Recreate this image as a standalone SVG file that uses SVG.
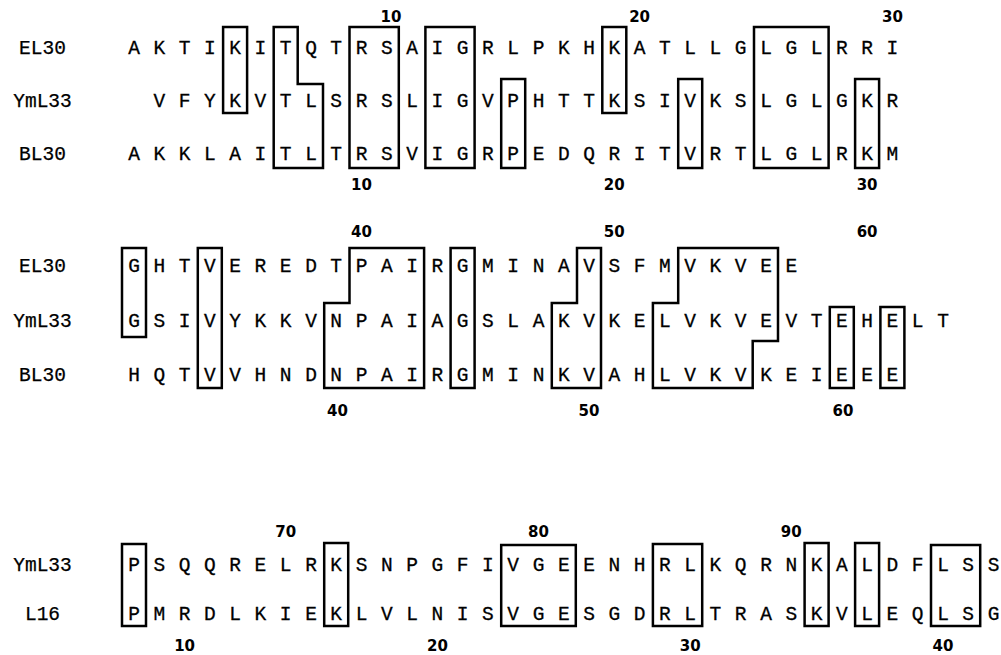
<svg xmlns="http://www.w3.org/2000/svg" width="1001" height="655" viewBox="0 0 1001 655">
<style>
.seq{font-family:"Liberation Mono","Courier New",monospace;font-size:19.5px;fill:#000;stroke:#000;stroke-width:0.3;text-anchor:middle}
.lbl{font-family:"Liberation Mono","Courier New",monospace;font-size:19.5px;fill:#000;stroke:#000;stroke-width:0.25;text-anchor:middle}
.num{font-family:"DejaVu Sans","Liberation Sans",sans-serif;font-weight:bold;font-size:15px;fill:#000;text-anchor:middle}
.box{fill:none;stroke:#000;stroke-width:2.5;stroke-linejoin:miter}
</style>
<rect width="1001" height="655" fill="#fff"/>

<g id="block1">
<g id="block1-labels">
<text class="lbl" x="42.5" y="54">EL30</text>
<text class="lbl" x="42.5" y="107">YmL33</text>
<text class="lbl" x="42.5" y="160">BL30</text>
</g>
<g id="block1-seqs">
<text class="seq" y="54" x="134 159.3 184.6 209.8 235.1 260.4 285.7 311 336.2 361.5 386.8 412.1 437.4 462.6 487.9 513.2 538.5 563.8 589 614.3 639.6 664.9 690.2 715.4 740.7 766 791.3 816.6 841.8 867.1 892.4">AKTIKITQTRSAIGRLPKHKATLLGLGLRRI</text>
<text class="seq" y="107" x="159.3 184.6 209.8 235.1 260.4 285.7 311 336.2 361.5 386.8 412.1 437.4 462.6 487.9 513.2 538.5 563.8 589 614.3 639.6 664.9 690.2 715.4 740.7 766 791.3 816.6 841.8 867.1 892.4">VFYKVTLSRSLIGVPHTTKSIVKSLGLGKR</text>
<text class="seq" y="160" x="134 159.3 184.6 209.8 235.1 260.4 285.7 311 336.2 361.5 386.8 412.1 437.4 462.6 487.9 513.2 538.5 563.8 589 614.3 639.6 664.9 690.2 715.4 740.7 766 791.3 816.6 841.8 867.1 892.4">AKKLAITLTRSVIGRPEDQRITVRTLGLRKM</text>
</g>
<g id="block1-numbers">
<text class="num" x="391" y="22">10</text>
<text class="num" x="639.6" y="22">20</text>
<text class="num" x="892.4" y="22">30</text>
<text class="num" x="361.5" y="190">10</text>
<text class="num" x="614.3" y="190">20</text>
<text class="num" x="867.1" y="190">30</text>
</g>
<g id="block1-boxes">
<rect class="box" x="223.1" y="27" width="24" height="86"/>
<polygon class="box" points="273.7,27 297.7,27 297.7,84 323,84 323,168 273.7,168"/>
<rect class="box" x="349.5" y="27" width="49.3" height="141"/>
<rect class="box" x="425.4" y="27" width="49.2" height="141"/>
<rect class="box" x="501.2" y="79" width="24" height="89"/>
<rect class="box" x="602.3" y="27" width="24" height="86"/>
<rect class="box" x="678.2" y="79" width="24" height="89"/>
<rect class="box" x="754" y="27" width="74.6" height="141"/>
<rect class="box" x="855.1" y="79" width="24" height="89"/>
</g>
</g>

<g id="block2">
<g id="block2-labels">
<text class="lbl" x="42.5" y="272">EL30</text>
<text class="lbl" x="42.5" y="327">YmL33</text>
<text class="lbl" x="42.5" y="381">BL30</text>
</g>
<g id="block2-seqs">
<text class="seq" y="272" x="134 159.3 184.6 209.8 235.1 260.4 285.7 311 336.2 361.5 386.8 412.1 437.4 462.6 487.9 513.2 538.5 563.8 589 614.3 639.6 664.9 690.2 715.4 740.7 766 791.3">GHTVEREDTPAIRGMINAVSFMVKVEE</text>
<text class="seq" y="327" x="134 159.3 184.6 209.8 235.1 260.4 285.7 311 336.2 361.5 386.8 412.1 437.4 462.6 487.9 513.2 538.5 563.8 589 614.3 639.6 664.9 690.2 715.4 740.7 766 791.3 816.6 841.8 867.1 892.4 917.7 943">GSIVYKKVNPAIAGSLAKVKELVKVEVTEHELT</text>
<text class="seq" y="381" x="134 159.3 184.6 209.8 235.1 260.4 285.7 311 336.2 361.5 386.8 412.1 437.4 462.6 487.9 513.2 538.5 563.8 589 614.3 639.6 664.9 690.2 715.4 740.7 766 791.3 816.6 841.8 867.1 892.4">HQTVVHNDNPAIRGMINKVAHLVKVKEIEEE</text>
</g>
<g id="block2-numbers">
<text class="num" x="361.5" y="237">40</text>
<text class="num" x="614.3" y="237">50</text>
<text class="num" x="867.1" y="237">60</text>
<text class="num" x="337.5" y="416">40</text>
<text class="num" x="589" y="416">50</text>
<text class="num" x="843" y="416">60</text>
</g>
<g id="block2-boxes">
<rect class="box" x="122" y="248" width="24" height="89"/>
<rect class="box" x="197.8" y="248" width="24" height="140"/>
<polygon class="box" points="349.5,248 424.1,248 424.1,388 324.2,388 324.2,303 349.5,303"/>
<rect class="box" x="450.6" y="248" width="24" height="140"/>
<polygon class="box" points="577,248 601,248 601,388 551.8,388 551.8,303 577,303"/>
<polygon class="box" points="678.2,248 778,248 778,341 752.7,341 752.7,388 652.9,388 652.9,303 678.2,303"/>
<rect class="box" x="829.8" y="307" width="24" height="81"/>
<rect class="box" x="880.4" y="307" width="24" height="81"/>
</g>
</g>

<g id="block3">
<g id="block3-labels">
<text class="lbl" x="42.5" y="571">YmL33</text>
<text class="lbl" x="42.5" y="620">L16</text>
</g>
<g id="block3-seqs">
<text class="seq" y="571" x="134 159.3 184.6 209.8 235.1 260.4 285.7 311 336.2 361.5 386.8 412.1 437.4 462.6 487.9 513.2 538.5 563.8 589 614.3 639.6 664.9 690.2 715.4 740.7 766 791.3 816.6 841.8 867.1 892.4 917.7 943 968.2 993.5">PSQQRELRKSNPGFIVGEENHRLKQRNKALDFLSS</text>
<text class="seq" y="620" x="134 159.3 184.6 209.8 235.1 260.4 285.7 311 336.2 361.5 386.8 412.1 437.4 462.6 487.9 513.2 538.5 563.8 589 614.3 639.6 664.9 690.2 715.4 740.7 766 791.3 816.6 841.8 867.1 892.4 917.7 943 968.2 993.5">PMRDLKIEKLVLNISVGESGDRLTRASKVLEQLSG</text>
</g>
<g id="block3-numbers">
<text class="num" x="285.7" y="537">70</text>
<text class="num" x="538.5" y="537">80</text>
<text class="num" x="791.3" y="537">90</text>
<text class="num" x="184.6" y="651">10</text>
<text class="num" x="437.4" y="651">20</text>
<text class="num" x="690.2" y="651">30</text>
<text class="num" x="943" y="651">40</text>
</g>
<g id="block3-boxes">
<rect class="box" x="122" y="544" width="24" height="82"/>
<rect class="box" x="324.2" y="543" width="24" height="83"/>
<rect class="box" x="501.2" y="545" width="74.6" height="81"/>
<rect class="box" x="652.9" y="544" width="49.3" height="82"/>
<rect class="box" x="804.6" y="543" width="24" height="83"/>
<rect class="box" x="855.1" y="543" width="24" height="83"/>
<rect class="box" x="931" y="545" width="49.2" height="81"/>
</g>
</g>
</svg>
